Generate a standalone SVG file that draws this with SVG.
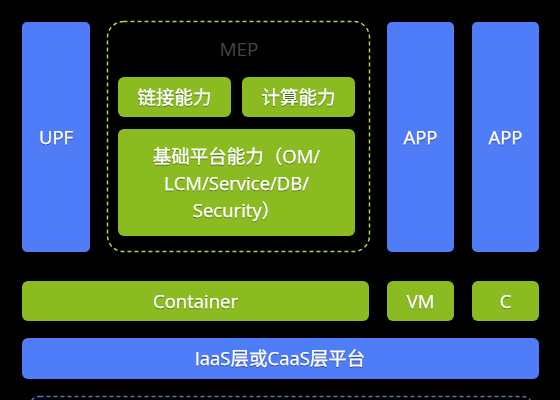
<svg xmlns="http://www.w3.org/2000/svg" width="560" height="400" viewBox="0 0 560 400">
<defs>
<filter id="sh" x="-20%" y="-20%" width="140%" height="140%"><feDropShadow dx="0" dy="1" stdDeviation="0.6" flood-color="#000" flood-opacity="0.45"/></filter>
</defs>
<style>
.blue{fill:#4f7cf7}
.green{fill:#8abc22}
.t{fill:#ffffff;font-family:"Open Sans","Noto Sans CJK SC",sans-serif;font-size:18.5px;text-anchor:middle;dominant-baseline:central;filter:url(#sh);stroke:#ffffff;stroke-width:0.25}
.mep{fill:#444444;font-family:"Open Sans","Noto Sans CJK SC",sans-serif;font-size:19px;text-anchor:middle;dominant-baseline:central}
</style>
<rect width="560" height="400" fill="#000"/>
<g id="mep">
<rect x="107.5" y="21.5" width="262" height="230" rx="16" fill="none" stroke="#bccf3c" stroke-width="1.5" stroke-dasharray="4 3"/>
<text class="mep" x="239" y="49">MEP</text>
</g>
<g id="upf"><rect class="blue" x="22" y="22" width="68" height="230" rx="5"/><text class="t" x="56" y="136">UPF</text></g>
<g id="link"><rect class="green" x="118" y="77" width="113" height="40" rx="6"/><text class="t" x="174.5" y="96">链接能力</text></g>
<g id="compute"><rect class="green" x="242" y="77" width="113" height="40" rx="6"/><text class="t" x="298.5" y="96">计算能力</text></g>
<g id="base"><rect class="green" x="118" y="129" width="237" height="107" rx="6"/>
<text class="t" x="236.5" y="155">基础平台能力（OM/</text>
<text class="t" x="236.5" y="182">LCM/Service/DB/</text>
<text class="t" x="236.5" y="209">Security）</text></g>
<g id="app1"><rect class="blue" x="387" y="22" width="67" height="230" rx="5"/><text class="t" x="420.5" y="136">APP</text></g>
<g id="app2"><rect class="blue" x="472" y="22" width="67" height="230" rx="5"/><text class="t" x="505.5" y="136">APP</text></g>
<g id="container"><rect class="green" x="22" y="281" width="347" height="40" rx="6"/><text class="t" x="195.5" y="300">Container</text></g>
<g id="vm"><rect class="green" x="387" y="281" width="67" height="40" rx="6"/><text class="t" x="420.5" y="300">VM</text></g>
<g id="c"><rect class="green" x="472" y="281" width="67" height="40" rx="6"/><text class="t" x="505.5" y="300">C</text></g>
<g id="iaas"><rect class="blue" x="22" y="338" width="517" height="41" rx="6"/><text class="t" x="280" y="357.5">IaaS层或CaaS层平台</text></g>
<g id="bottom"><rect x="29.5" y="396.5" width="503" height="60" rx="10" fill="none" stroke="#5b6fc8" stroke-width="1.4" stroke-dasharray="4 3"/></g>
<g id="connectors"></g>
</svg>
